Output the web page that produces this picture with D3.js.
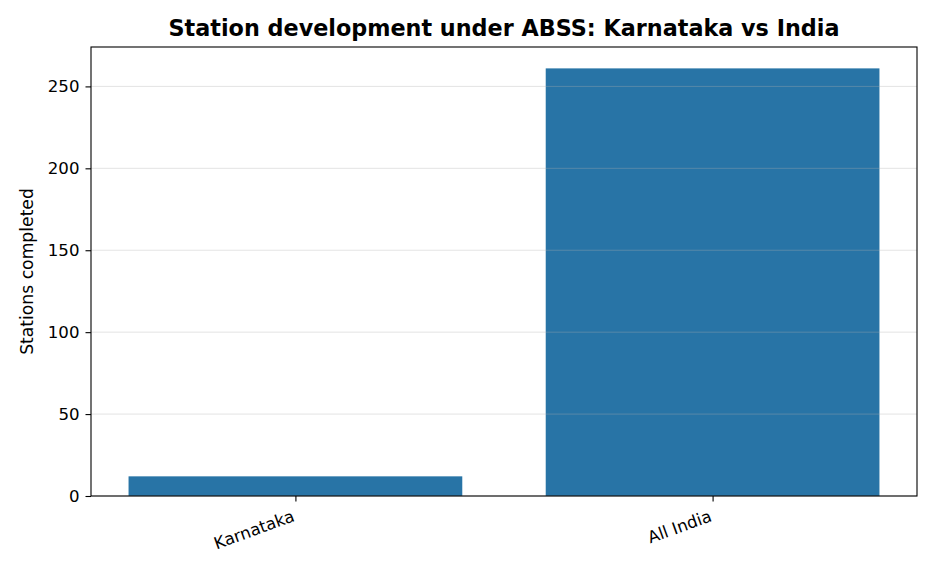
<!DOCTYPE html>
<html>
<head>
<meta charset="utf-8">
<script src="https://cdn.jsdelivr.net/npm/d3@7"></script>
<style>
  body { margin: 0; background: #fff; }
  text { font-family: "DejaVu Sans", sans-serif; }
</style>
</head>
<body>
<div id="chart"></div>
<script>
const regions = ['Karnataka', 'All India'];
const stations = [12, 261];
const yTicks = [0, 50, 100, 150, 200, 250];

const width = 936, height = 572;
const margin = {top: 47, right: 19, bottom: 76, left: 91};
const w = width - margin.left - margin.right;
const h = height - margin.top - margin.bottom;
const fs = 16.6;

const svg = d3.select('#chart')
  .append('svg')
  .attr('width', width)
  .attr('height', height);

const g = svg.append('g')
  .attr('transform', `translate(${margin.left},${margin.top})`);

// matplotlib-like: bars at 0..n-1, width 0.8, 5% margins
let x = d3.scaleLinear()
  .domain([-0.49, regions.length - 1 + 0.49])
  .range([0, w]);

let y = d3.scaleLinear()
  .domain([0, d3.max(stations) * 1.05])
  .range([h, 0]);

g.selectAll('.bar')
  .data(stations)
  .enter()
    .append('rect')
    .attr('class', 'bar')
    .attr('x', (d, i) => x(i - 0.4))
    .attr('width', x(0.4) - x(-0.4))
    .attr('y', d => y(d))
    .attr('height', d => h - y(d))
    .attr('fill', '#2874a6');

// grid drawn over bars
g.append('g')
  .selectAll('line')
  .data(yTicks)
  .enter()
    .append('line')
    .attr('x1', 0)
    .attr('x2', w)
    .attr('y1', d => y(d))
    .attr('y2', d => y(d))
    .attr('stroke', '#b0b0b0')
    .attr('stroke-opacity', 0.35)
    .attr('stroke-width', 1);

let yAxis = d3.axisLeft(y).tickValues(yTicks).tickSize(5.5).tickPadding(6);
let yg = g.append('g').call(yAxis);
yg.select('.domain').remove();
yg.selectAll('line').attr('stroke', '#000').attr('stroke-width', 1.1);
yg.selectAll('text').attr('font-size', fs).attr('fill', '#000');

let xAxis = d3.axisBottom(x).tickValues(d3.range(regions.length)).tickSize(5.5).tickFormat('');
let xg = g.append('g').attr('transform', `translate(0,${h})`).call(xAxis);
xg.select('.domain').remove();
xg.selectAll('line').attr('stroke', '#000').attr('stroke-width', 1.1);

g.selectAll('.xlabel')
  .data(regions)
  .enter()
    .append('text')
    .attr('class', 'xlabel')
    .attr('transform', (d, i) => `translate(${x(i) - 4},${h + 13}) rotate(-20)`)
    .attr('text-anchor', 'end')
    .attr('font-size', fs)
    .attr('dy', '0.75em')
    .text(d => d);

// frame
g.append('rect')
  .attr('width', w)
  .attr('height', h)
  .attr('fill', 'none')
  .attr('stroke', '#000')
  .attr('stroke-width', 1.1);

svg.append('text')
  .attr('x', margin.left + w / 2)
  .attr('y', 36)
  .attr('text-anchor', 'middle')
  .attr('font-size', 22.3)
  .attr('font-weight', 'bold')
  .text('Station development under ABSS: Karnataka vs India');

svg.append('text')
  .attr('transform', `translate(33,${margin.top + h / 2}) rotate(-90)`)
  .attr('text-anchor', 'middle')
  .attr('font-size', 17.2)
  .text('Stations completed');
</script>
</body>
</html>
